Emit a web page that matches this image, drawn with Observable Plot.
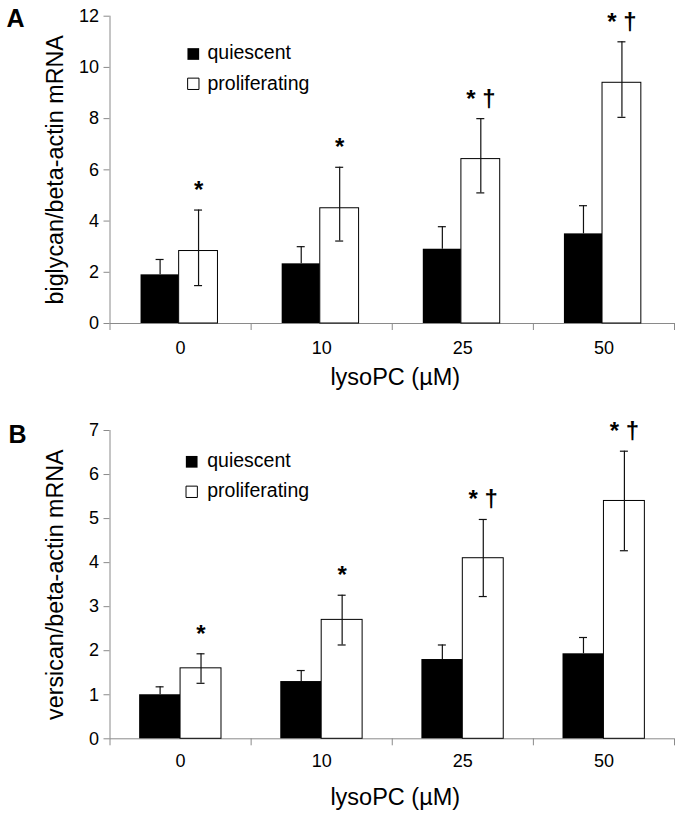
<!DOCTYPE html>
<html><head><meta charset="utf-8">
<script src="https://cdn.jsdelivr.net/npm/d3@7"></script>
<script src="https://cdn.jsdelivr.net/npm/@observablehq/plot@0.6"></script>
<style>
body{margin:0;background:#fff;}
#chart{width:683px;}
#chart svg{display:block;}
</style></head><body><div id="chart"></div>
<script>
// ---- data ----
const doses = ["0", "10", "25", "50"];
const seriesNames = ["quiescent", "proliferating"];
const significance = ["*", "*", "* †", "* †"];

// Panel A: biglycan
const biglycanQuiescent = [1.9, 2.33, 2.9, 3.5];
const biglycanQuiescentHi = [2.5, 3.0, 3.78, 4.6];
const biglycanProliferating = [2.83, 4.5, 6.42, 9.4];
const biglycanProliferatingLo = [1.48, 3.22, 5.1, 8.05];
const biglycanProliferatingHi = [4.43, 6.1, 8.0, 11.0];
const yTicksA = [0, 2, 4, 6, 8, 10, 12];

// Panel B: versican
const versicanQuiescent = [1.0, 1.3, 1.8, 1.93];
const versicanQuiescentHi = [1.18, 1.55, 2.13, 2.3];
const versicanProliferating = [1.6, 2.7, 4.1, 5.4];
const versicanProliferatingLo = [1.26, 2.13, 3.23, 4.27];
const versicanProliferatingHi = [1.93, 3.26, 4.98, 6.53];
const yTicksB = [0, 1, 2, 3, 4, 5, 6, 7];

const xLabel = "lysoPC (µM)";
const FONT = "'Liberation Sans', Arial, Helvetica, sans-serif";
const GREY = "#8a8a8a";

function panel(cfg) {
  const rows = doses.map((d, i) => ({
    i, dose: d,
    q: cfg.q[i], qHi: cfg.qHi[i],
    p: cfg.p[i], pLo: cfg.pLo[i], pHi: cfg.pHi[i],
    sig: significance[i]
  }));
  const [a, b, c] = cfg.slots;
  const qc = (a + b) / 2, pc = (b + c) / 2;
  const ebar = {stroke: "#111", strokeWidth: 1.2};
  return Plot.plot({
    width: 683,
    height: cfg.height,
    marginLeft: 109.5,
    marginRight: 9,
    marginTop: cfg.marginTop,
    marginBottom: cfg.marginBottom,
    style: {fontFamily: FONT, fontSize: "18px", color: "black", background: "white", overflow: "visible"},
    x: {type: "linear", domain: [0, doses.length]},
    y: {domain: [0, cfg.yTicks[cfg.yTicks.length - 1]]},
    marks: [
      // axes
      Plot.axisY({ticks: cfg.yTicks, tickSize: 6, tickPadding: 5, stroke: GREY, fill: "black", label: null, tickFormat: d => String(d)}),
      Plot.axisX({ticks: d3.range(doses.length + 1), tickSize: 7, tickFormat: () => "", stroke: GREY, label: null}),
      Plot.axisX({ticks: doses.map((d, i) => i + 0.5), tickSize: 0, tickPadding: cfg.tickPad, tickFormat: v => doses[Math.floor(v)], fill: "black", label: null}),
      Plot.ruleX([0], {stroke: GREY}),
      Plot.ruleY([0], {stroke: GREY}),
      // bars
      Plot.rectY(rows, {x1: d => d.i + a, x2: d => d.i + b, y1: 0, y2: "q", fill: "black"}),
      Plot.rectY(rows, {x1: d => d.i + b, x2: d => d.i + c, y1: 0, y2: "p", fill: "white", stroke: "black", strokeWidth: 1}),
      // error bars
      Plot.ruleX(rows, {x: d => d.i + qc, y1: "q", y2: "qHi", ...ebar}),
      Plot.ruleY(rows, {x1: d => d.i + qc, x2: d => d.i + qc, y: "qHi", insetLeft: -4, insetRight: -4, ...ebar}),
      Plot.ruleX(rows, {x: d => d.i + pc, y1: "pLo", y2: "pHi", ...ebar}),
      Plot.ruleY(rows, {x1: d => d.i + pc, x2: d => d.i + pc, y: "pHi", insetLeft: -4, insetRight: -4, ...ebar}),
      Plot.ruleY(rows, {x1: d => d.i + pc, x2: d => d.i + pc, y: "pLo", insetLeft: -4, insetRight: -4, ...ebar}),
      // significance marks
      Plot.text(rows, {x: d => d.i + pc, y: "pHi", text: "sig", dy: -12, lineAnchor: "bottom", fontSize: 24, fontWeight: "bold", fill: "black"}),
      // legend
      Plot.dot([seriesNames[0]], {frameAnchor: "top-left", dx: cfg.legend.sx, dy: cfg.legend.s1, symbol: "square", r: 6.6, fill: "black", stroke: "none"}),
      Plot.dot([seriesNames[1]], {frameAnchor: "top-left", dx: cfg.legend.sx, dy: cfg.legend.s2, symbol: "square", r: 6.4, fill: "white", stroke: "black", strokeWidth: 1}),
      Plot.text([seriesNames[0]], {text: d => d, frameAnchor: "top-left", dx: cfg.legend.tx, dy: cfg.legend.t1, textAnchor: "start", lineAnchor: "bottom", fontSize: 19.5, fill: "black"}),
      Plot.text([seriesNames[1]], {text: d => d, frameAnchor: "top-left", dx: cfg.legend.tx, dy: cfg.legend.t2, textAnchor: "start", lineAnchor: "bottom", fontSize: 19.5, fill: "black"}),
      // axis titles
      Plot.text([cfg.yLabel], {text: d => d, frameAnchor: "left", dx: -47.5, rotate: -90, textAnchor: "middle", lineAnchor: "bottom", fontSize: 23.3, fill: "black"}),
      Plot.text([xLabel], {text: d => d, frameAnchor: "bottom", dx: 3, dy: cfg.titleDy, textAnchor: "middle", lineAnchor: "bottom", fontSize: 23.5, fill: "black"}),
      // panel letter
      Plot.text([cfg.letter], {text: d => d, frameAnchor: "top-left", dx: cfg.letterDx, dy: cfg.letterDy, textAnchor: "start", lineAnchor: "bottom", fontSize: 25, fontWeight: "bold", fill: "black"})
    ]
  });
}

const chart = document.getElementById("chart");
chart.append(panel({
  letter: "A", yLabel: "biglycan/beta-actin mRNA", yTicks: yTicksA,
  q: biglycanQuiescent, qHi: biglycanQuiescentHi,
  p: biglycanProliferating, pLo: biglycanProliferatingLo, pHi: biglycanProliferatingHi,
  height: 400, marginTop: 15.7, marginBottom: 77,
  slots: [0.22, 0.49, 0.765],
  legend: {sx: 83.3, s1: 37.8, s2: 67.6, tx: 97.5, t1: 42.3, t2: 73.6},
  tickPad: 17.5, titleDy: 61,
  letterDx: -103.5, letterDy: 10.3
}));
chart.append(panel({
  letter: "B", yLabel: "versican/beta-actin mRNA", yTicks: yTicksB,
  q: versicanQuiescent, qHi: versicanQuiescentHi,
  p: versicanProliferating, pLo: versicanProliferatingLo, pHi: versicanProliferatingHi,
  height: 415, marginTop: 30, marginBottom: 76.7,
  slots: [0.21, 0.5, 0.79],
  legend: {sx: 81.7, s1: 31.3, s2: 61.3, tx: 97.2, t1: 36.7, t2: 66.7},
  tickPad: 15, titleDy: 65.7,
  letterDx: -101.5, letterDy: 12.7
}));
</script>
</body></html>
